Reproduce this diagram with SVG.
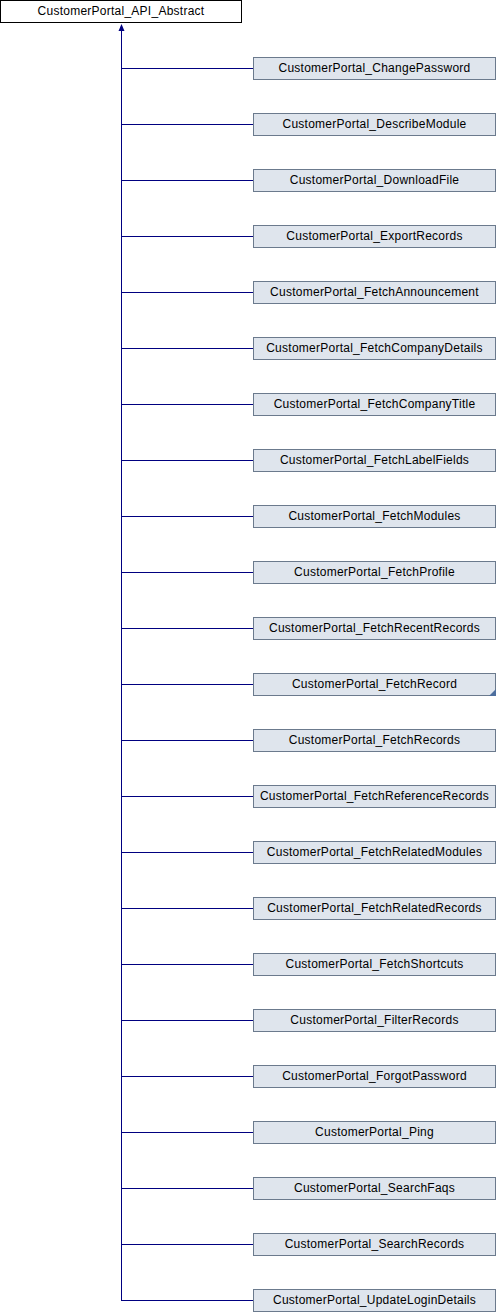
<svg xmlns="http://www.w3.org/2000/svg" width="496" height="1312" viewBox="0 0 496 1312">
<style>
text{font-family:"Liberation Sans",Arial,sans-serif;font-size:12px;fill:#000;text-anchor:middle;letter-spacing:0.25px}
.base{fill:#fff;stroke:#000;stroke-width:1}
.child{fill:#dfe5ed;stroke:#6b7a8d;stroke-width:1}
.edge{stroke:#000080;stroke-width:1;fill:none}
</style>
<rect width="496" height="1312" fill="#fff"/>
<g id="connectors">
<path class="edge" d="M121.5,29V1300.5"/>
<polygon points="121.5,24 118.5,31 124.5,31" fill="#000080"/>
<path class="edge" d="M121,68.5H253M121,124.5H253M121,180.5H253M121,236.5H253M121,292.5H253M121,348.5H253M121,404.5H253M121,460.5H253M121,516.5H253M121,572.5H253M121,628.5H253M121,684.5H253M121,740.5H253M121,796.5H253M121,852.5H253M121,908.5H253M121,964.5H253M121,1020.5H253M121,1076.5H253M121,1132.5H253M121,1188.5H253M121,1244.5H253M121,1300.5H253"/>
</g>
<g id="CustomerPortal_API_Abstract"><rect class="base" x="0.5" y="0.5" width="241" height="22"/><text x="121" y="15">CustomerPortal_API_Abstract</text></g>
<g id="ChangePassword"><rect class="child" x="253.5" y="57.5" width="242" height="22"/><text x="374.5" y="72">CustomerPortal_ChangePassword</text></g>
<g id="DescribeModule"><rect class="child" x="253.5" y="113.5" width="242" height="22"/><text x="374.5" y="128">CustomerPortal_DescribeModule</text></g>
<g id="DownloadFile"><rect class="child" x="253.5" y="169.5" width="242" height="22"/><text x="374.5" y="184">CustomerPortal_DownloadFile</text></g>
<g id="ExportRecords"><rect class="child" x="253.5" y="225.5" width="242" height="22"/><text x="374.5" y="240">CustomerPortal_ExportRecords</text></g>
<g id="FetchAnnouncement"><rect class="child" x="253.5" y="281.5" width="242" height="22"/><text x="374.5" y="296">CustomerPortal_FetchAnnouncement</text></g>
<g id="FetchCompanyDetails"><rect class="child" x="253.5" y="337.5" width="242" height="22"/><text x="374.5" y="352">CustomerPortal_FetchCompanyDetails</text></g>
<g id="FetchCompanyTitle"><rect class="child" x="253.5" y="393.5" width="242" height="22"/><text x="374.5" y="408">CustomerPortal_FetchCompanyTitle</text></g>
<g id="FetchLabelFields"><rect class="child" x="253.5" y="449.5" width="242" height="22"/><text x="374.5" y="464">CustomerPortal_FetchLabelFields</text></g>
<g id="FetchModules"><rect class="child" x="253.5" y="505.5" width="242" height="22"/><text x="374.5" y="520">CustomerPortal_FetchModules</text></g>
<g id="FetchProfile"><rect class="child" x="253.5" y="561.5" width="242" height="22"/><text x="374.5" y="576">CustomerPortal_FetchProfile</text></g>
<g id="FetchRecentRecords"><rect class="child" x="253.5" y="617.5" width="242" height="22"/><text x="374.5" y="632">CustomerPortal_FetchRecentRecords</text></g>
<g id="FetchRecord"><rect class="child" x="253.5" y="673.5" width="242" height="22"/><text x="374.5" y="688">CustomerPortal_FetchRecord</text><polygon points="489,696 496,689 496,696" fill="#4d6e9e"/></g>
<g id="FetchRecords"><rect class="child" x="253.5" y="729.5" width="242" height="22"/><text x="374.5" y="744">CustomerPortal_FetchRecords</text></g>
<g id="FetchReferenceRecords"><rect class="child" x="253.5" y="785.5" width="242" height="22"/><text x="374.5" y="800">CustomerPortal_FetchReferenceRecords</text></g>
<g id="FetchRelatedModules"><rect class="child" x="253.5" y="841.5" width="242" height="22"/><text x="374.5" y="856">CustomerPortal_FetchRelatedModules</text></g>
<g id="FetchRelatedRecords"><rect class="child" x="253.5" y="897.5" width="242" height="22"/><text x="374.5" y="912">CustomerPortal_FetchRelatedRecords</text></g>
<g id="FetchShortcuts"><rect class="child" x="253.5" y="953.5" width="242" height="22"/><text x="374.5" y="968">CustomerPortal_FetchShortcuts</text></g>
<g id="FilterRecords"><rect class="child" x="253.5" y="1009.5" width="242" height="22"/><text x="374.5" y="1024">CustomerPortal_FilterRecords</text></g>
<g id="ForgotPassword"><rect class="child" x="253.5" y="1065.5" width="242" height="22"/><text x="374.5" y="1080">CustomerPortal_ForgotPassword</text></g>
<g id="Ping"><rect class="child" x="253.5" y="1121.5" width="242" height="22"/><text x="374.5" y="1136">CustomerPortal_Ping</text></g>
<g id="SearchFaqs"><rect class="child" x="253.5" y="1177.5" width="242" height="22"/><text x="374.5" y="1192">CustomerPortal_SearchFaqs</text></g>
<g id="SearchRecords"><rect class="child" x="253.5" y="1233.5" width="242" height="22"/><text x="374.5" y="1248">CustomerPortal_SearchRecords</text></g>
<g id="UpdateLoginDetails"><rect class="child" x="253.5" y="1289.5" width="242" height="22"/><text x="374.5" y="1304">CustomerPortal_UpdateLoginDetails</text></g>
</svg>
